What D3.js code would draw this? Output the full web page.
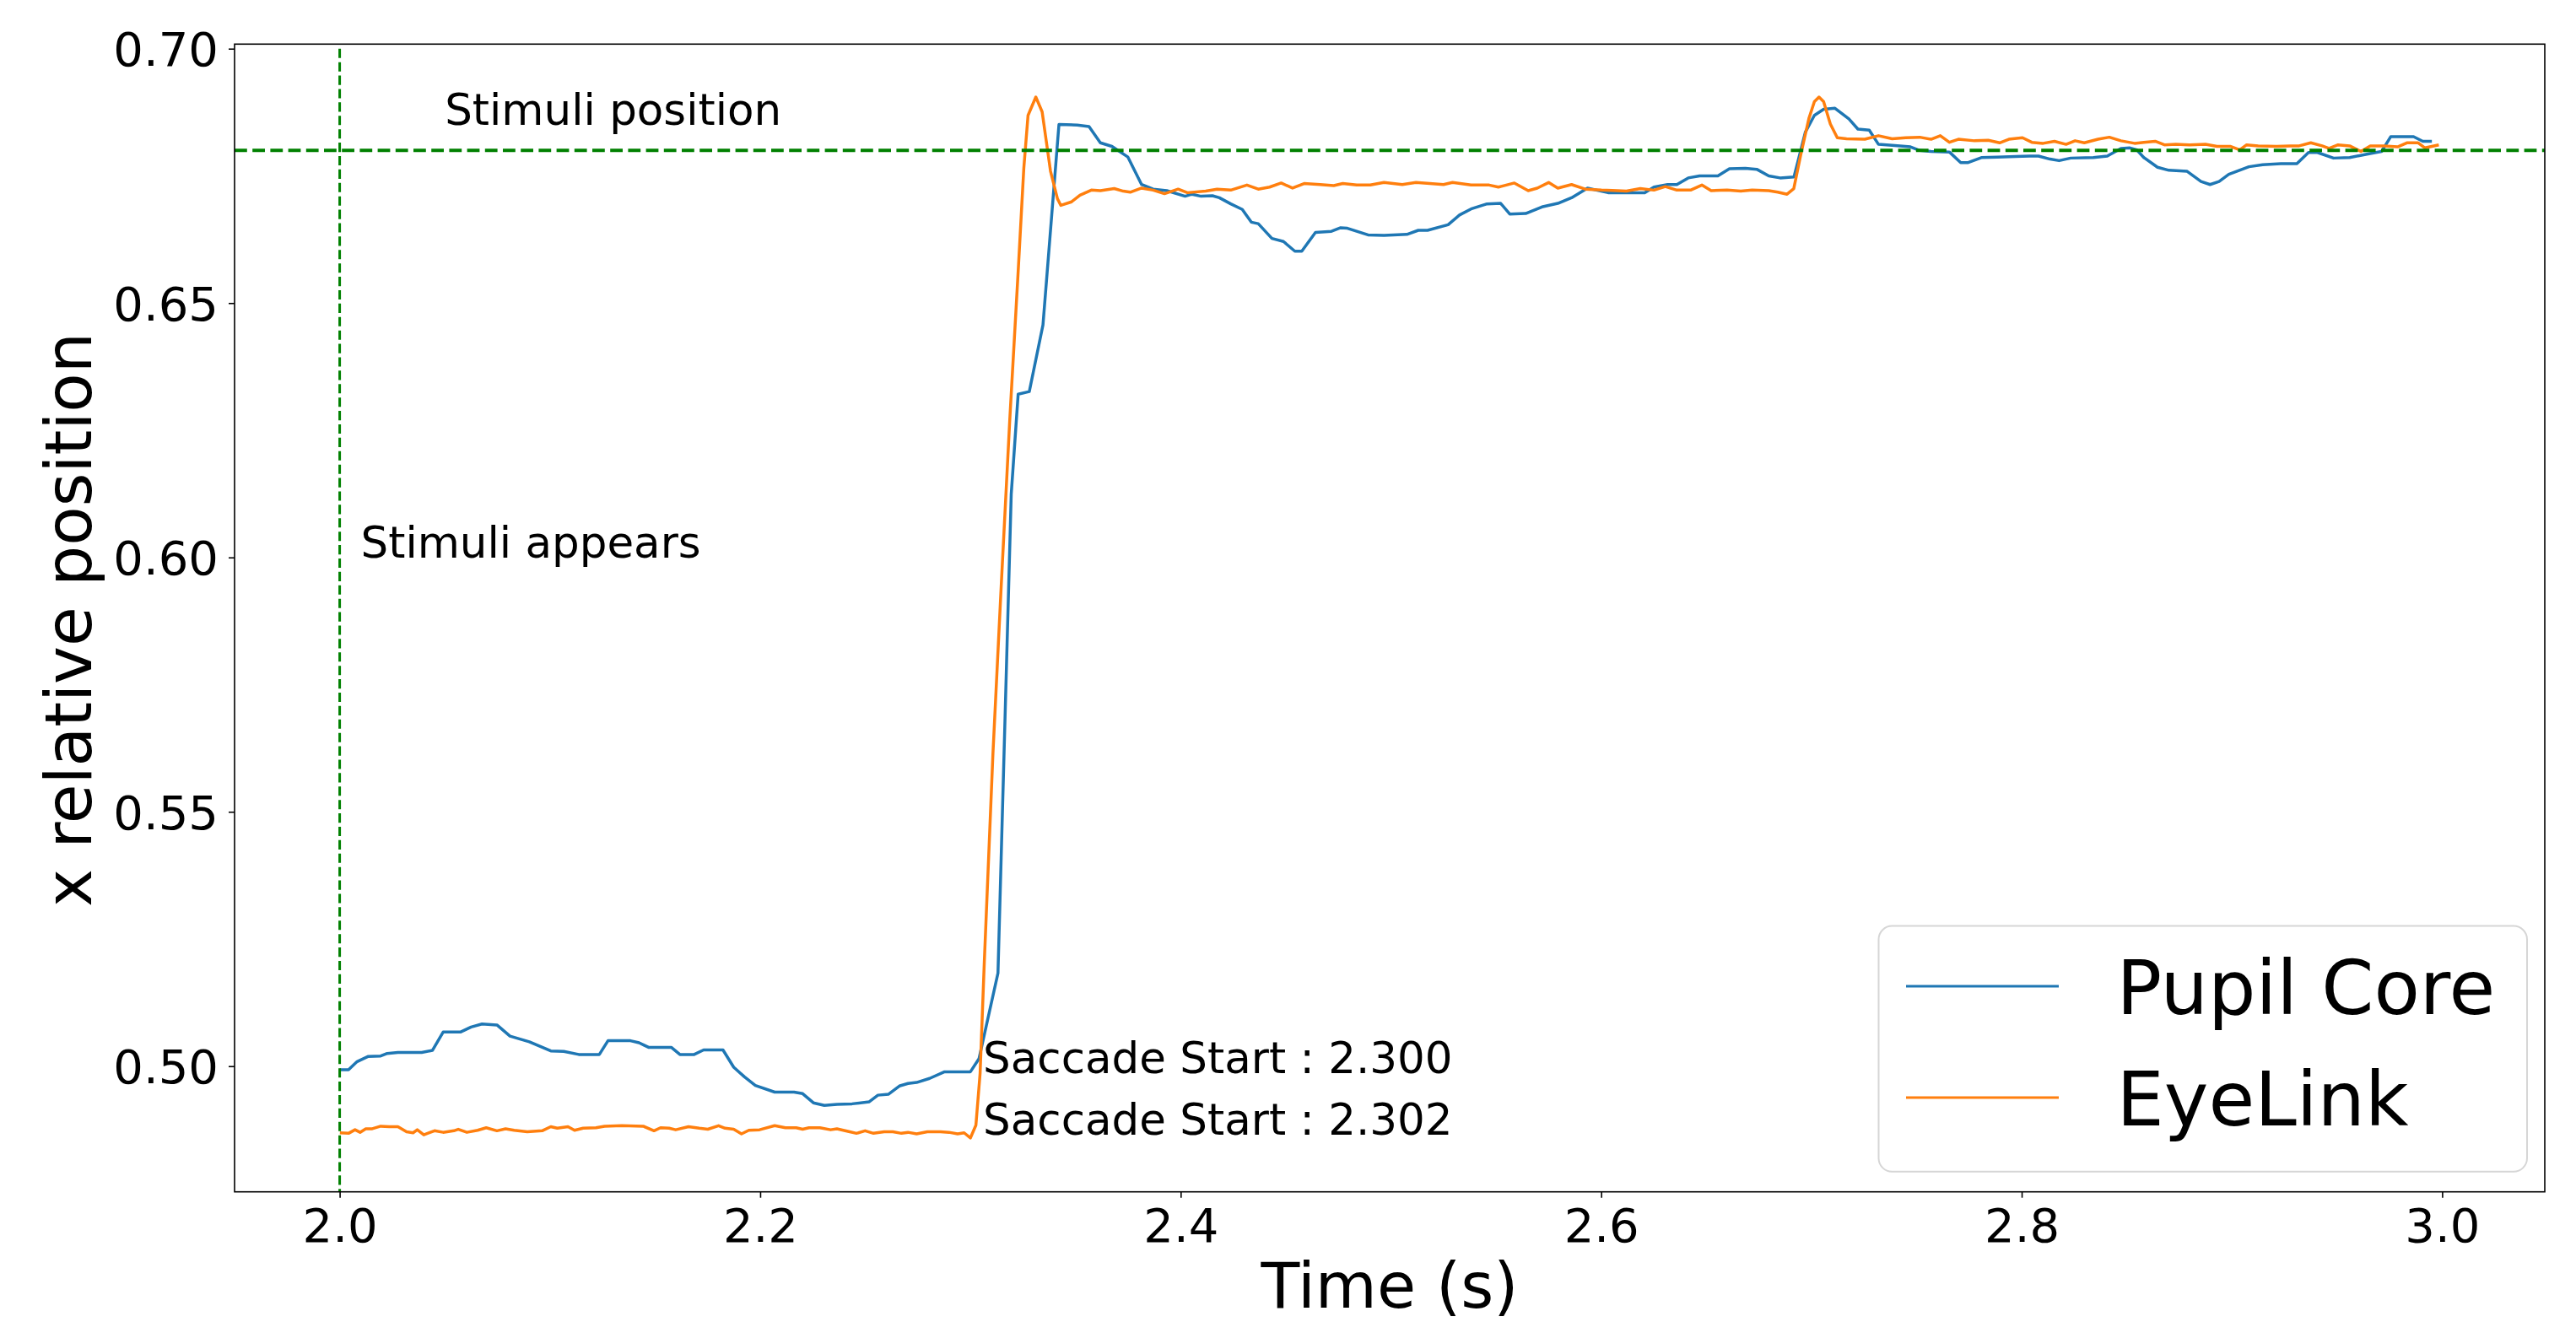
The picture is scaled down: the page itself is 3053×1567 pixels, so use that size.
<!DOCTYPE html>
<html>
<head>
<meta charset="utf-8">
<script src="https://cdn.jsdelivr.net/npm/d3@7"></script>
<style>
    body { margin: 0; background: #fff; }
    text { font-family: "DejaVu Sans", sans-serif; fill: #000; }
</style>
</head>
<body>
<div id="chart"></div>
<script>
const pupilTime = [2.0000, 2.0042, 2.0083, 2.0134, 2.0195, 2.0226, 2.0277, 2.0390, 2.0441, 2.0492, 2.0574, 2.0625, 2.0677, 2.0748, 2.0810, 2.0902, 2.1004, 2.1066, 2.1137, 2.1235, 2.1276, 2.1383, 2.1424, 2.1469, 2.1577, 2.1618, 2.1686, 2.1731, 2.1823, 2.1874, 2.1925, 2.1977, 2.2069, 2.2161, 2.2202, 2.2253, 2.2305, 2.2366, 2.2437, 2.2519, 2.2560, 2.2611, 2.2662, 2.2703, 2.2744, 2.2806, 2.2877, 2.3000, 2.3041, 2.3131, 2.3194, 2.3227, 2.3280, 2.3345, 2.3421, 2.3508, 2.3564, 2.3618, 2.3673, 2.3749, 2.3814, 2.3869, 2.3934, 2.4021, 2.4054, 2.4097, 2.4151, 2.4184, 2.4238, 2.4293, 2.4336, 2.4369, 2.4434, 2.4489, 2.4543, 2.4576, 2.4641, 2.4717, 2.4761, 2.4793, 2.4891, 2.4967, 2.5076, 2.5130, 2.5174, 2.5272, 2.5326, 2.5381, 2.5457, 2.5522, 2.5565, 2.5641, 2.5718, 2.5794, 2.5859, 2.5935, 2.6033, 2.6207, 2.6251, 2.6316, 2.6360, 2.6414, 2.6468, 2.6555, 2.6610, 2.6686, 2.6740, 2.6797, 2.6851, 2.6917, 2.6971, 2.7014, 2.7058, 2.7112, 2.7178, 2.7221, 2.7275, 2.7319, 2.7384, 2.7471, 2.7515, 2.7569, 2.7656, 2.7710, 2.7743, 2.7808, 2.7884, 2.7971, 2.8037, 2.8080, 2.8135, 2.8178, 2.8233, 2.8341, 2.8407, 2.8472, 2.8515, 2.8548, 2.8581, 2.8646, 2.8700, 2.8787, 2.8853, 2.8896, 2.8939, 2.8985, 2.9081, 2.9146, 2.9233, 2.9309, 2.9364, 2.9407, 2.9483, 2.9560, 2.9647, 2.9712, 2.9755, 2.9864, 2.9908, 2.9951];
const pupilX = [0.4993, 0.4993, 0.5009, 0.5019, 0.5020, 0.5025, 0.5027, 0.5027, 0.5031, 0.5067, 0.5067, 0.5077, 0.5083, 0.5081, 0.5059, 0.5048, 0.5030, 0.5029, 0.5023, 0.5023, 0.5050, 0.5050, 0.5046, 0.5037, 0.5037, 0.5023, 0.5023, 0.5032, 0.5032, 0.4998, 0.4979, 0.4962, 0.4949, 0.4949, 0.4946, 0.4928, 0.4923, 0.4925, 0.4926, 0.4930, 0.4943, 0.4945, 0.4961, 0.4966, 0.4968, 0.4976, 0.4989, 0.4989, 0.5015, 0.5183, 0.6124, 0.6321, 0.6326, 0.6457, 0.6851, 0.6850, 0.6847, 0.6815, 0.6808, 0.6787, 0.6733, 0.6724, 0.6721, 0.6710, 0.6714, 0.6710, 0.6711, 0.6707, 0.6695, 0.6684, 0.6659, 0.6656, 0.6627, 0.6621, 0.6602, 0.6602, 0.6639, 0.6641, 0.6648, 0.6647, 0.6634, 0.6633, 0.6635, 0.6643, 0.6643, 0.6654, 0.6673, 0.6685, 0.6695, 0.6696, 0.6675, 0.6676, 0.6689, 0.6696, 0.6707, 0.6726, 0.6717, 0.6717, 0.6728, 0.6733, 0.6733, 0.6746, 0.6750, 0.6750, 0.6764, 0.6765, 0.6763, 0.6750, 0.6746, 0.6748, 0.6836, 0.6869, 0.6881, 0.6883, 0.6862, 0.6842, 0.6840, 0.6812, 0.6810, 0.6807, 0.6800, 0.6798, 0.6797, 0.6776, 0.6776, 0.6786, 0.6787, 0.6788, 0.6789, 0.6789, 0.6783, 0.6780, 0.6785, 0.6786, 0.6789, 0.6804, 0.6805, 0.6801, 0.6786, 0.6767, 0.6761, 0.6759, 0.6739, 0.6733, 0.6739, 0.6753, 0.6768, 0.6772, 0.6774, 0.6774, 0.6796, 0.6796, 0.6785, 0.6786, 0.6793, 0.6798, 0.6827, 0.6827, 0.6818, 0.6818];

const eyelinkTime = [2.0001, 2.0042, 2.0073, 2.0097, 2.0124, 2.0155, 2.0195, 2.0236, 2.0277, 2.0318, 2.0349, 2.0369, 2.0400, 2.0451, 2.0492, 2.0543, 2.0564, 2.0605, 2.0656, 2.0697, 2.0748, 2.0789, 2.0830, 2.0892, 2.0963, 2.1004, 2.1035, 2.1086, 2.1117, 2.1158, 2.1219, 2.1260, 2.1342, 2.1444, 2.1495, 2.1526, 2.1567, 2.1598, 2.1659, 2.1710, 2.1751, 2.1802, 2.1833, 2.1874, 2.1911, 2.1946, 2.1997, 2.2069, 2.2120, 2.2171, 2.2202, 2.2232, 2.2284, 2.2335, 2.2365, 2.2417, 2.2458, 2.2499, 2.2539, 2.2590, 2.2631, 2.2672, 2.2703, 2.2744, 2.2795, 2.2857, 2.2898, 2.2939, 2.2970, 2.3000, 2.3026, 2.3046, 2.3066, 2.3107, 2.3147, 2.3187, 2.3227, 2.3254, 2.3274, 2.3311, 2.3341, 2.3381, 2.3414, 2.3430, 2.3481, 2.3521, 2.3575, 2.3618, 2.3684, 2.3727, 2.3760, 2.3814, 2.3869, 2.3923, 2.3988, 2.4032, 2.4119, 2.4173, 2.4238, 2.4315, 2.4369, 2.4423, 2.4478, 2.4532, 2.4587, 2.4663, 2.4728, 2.4771, 2.4837, 2.4902, 2.4967, 2.5054, 2.5119, 2.5185, 2.5250, 2.5293, 2.5381, 2.5467, 2.5511, 2.5587, 2.5653, 2.5696, 2.5750, 2.5794, 2.5859, 2.5924, 2.6001, 2.6077, 2.6120, 2.6186, 2.6251, 2.6305, 2.6360, 2.6425, 2.6479, 2.6523, 2.6599, 2.6664, 2.6718, 2.6797, 2.6840, 2.6884, 2.6916, 2.6949, 2.6988, 2.7014, 2.7036, 2.7058, 2.7090, 2.7123, 2.7167, 2.7254, 2.7319, 2.7384, 2.7449, 2.7515, 2.7569, 2.7613, 2.7656, 2.7699, 2.7776, 2.7841, 2.7895, 2.7939, 2.8004, 2.8048, 2.8102, 2.8156, 2.8211, 2.8254, 2.8298, 2.8363, 2.8417, 2.8472, 2.8537, 2.8581, 2.8635, 2.8679, 2.8733, 2.8798, 2.8874, 2.8929, 2.8994, 2.9037, 2.9070, 2.9125, 2.9212, 2.9277, 2.9320, 2.9375, 2.9429, 2.9462, 2.9505, 2.9560, 2.9614, 2.9658, 2.9723, 2.9788, 2.9832, 2.9886, 2.9918, 2.9984];
const eyelinkX = [0.4869, 0.4868, 0.4875, 0.4870, 0.4877, 0.4877, 0.4882, 0.4881, 0.4881, 0.4871, 0.4869, 0.4875, 0.4865, 0.4873, 0.4870, 0.4873, 0.4876, 0.4870, 0.4874, 0.4879, 0.4873, 0.4877, 0.4874, 0.4871, 0.4873, 0.4881, 0.4878, 0.4881, 0.4874, 0.4878, 0.4879, 0.4882, 0.4883, 0.4882, 0.4873, 0.4879, 0.4878, 0.4875, 0.4881, 0.4878, 0.4876, 0.4883, 0.4878, 0.4876, 0.4867, 0.4874, 0.4875, 0.4883, 0.4879, 0.4879, 0.4876, 0.4879, 0.4879, 0.4875, 0.4877, 0.4872, 0.4868, 0.4873, 0.4868, 0.4871, 0.4871, 0.4868, 0.4870, 0.4867, 0.4871, 0.4871, 0.4870, 0.4867, 0.4869, 0.4859, 0.4884, 0.4986, 0.5205, 0.5614, 0.5949, 0.6270, 0.6562, 0.6766, 0.6869, 0.6905, 0.6876, 0.6759, 0.6705, 0.6692, 0.6699, 0.6712, 0.6722, 0.6721, 0.6725, 0.6720, 0.6718, 0.6726, 0.6722, 0.6715, 0.6724, 0.6717, 0.6720, 0.6724, 0.6722, 0.6732, 0.6724, 0.6728, 0.6736, 0.6726, 0.6735, 0.6733, 0.6731, 0.6735, 0.6732, 0.6732, 0.6737, 0.6733, 0.6737, 0.6735, 0.6733, 0.6737, 0.6732, 0.6732, 0.6728, 0.6736, 0.6721, 0.6726, 0.6737, 0.6726, 0.6733, 0.6724, 0.6722, 0.6721, 0.6720, 0.6725, 0.6722, 0.6729, 0.6722, 0.6722, 0.6732, 0.6721, 0.6722, 0.6720, 0.6722, 0.6721, 0.6718, 0.6714, 0.6725, 0.6791, 0.6863, 0.6896, 0.6905, 0.6896, 0.6852, 0.6825, 0.6823, 0.6822, 0.6829, 0.6823, 0.6825, 0.6826, 0.6822, 0.6829, 0.6816, 0.6822, 0.6819, 0.6820, 0.6815, 0.6822, 0.6825, 0.6816, 0.6814, 0.6818, 0.6812, 0.6819, 0.6815, 0.6822, 0.6826, 0.6819, 0.6814, 0.6816, 0.6818, 0.6811, 0.6812, 0.6811, 0.6812, 0.6808, 0.6808, 0.6801, 0.6811, 0.6809, 0.6808, 0.6809, 0.6809, 0.6815, 0.6809, 0.6804, 0.6811, 0.6809, 0.6798, 0.6809, 0.6809, 0.6807, 0.6815, 0.6815, 0.6805, 0.6811];

const xTicks = [2.0, 2.2, 2.4, 2.6, 2.8, 3.0];
const yTicks = [0.50, 0.55, 0.60, 0.65, 0.70];

const seriesNames = ['Pupil Core', 'EyeLink'];
const seriesColors = ['#1f77b4', '#ff7f0e'];

const stimulusTime = 2.0;
const stimulusPosition = 0.68;
const notes = [
    { t: 2.05, v: 0.685, text: 'Stimuli position' },
    { t: 2.01, v: 0.600, text: 'Stimuli appears' },
    { t: 2.306, v: 0.4987, text: 'Saccade Start : 2.300' },
    { t: 2.306, v: 0.4866, text: 'Saccade Start : 2.302' }
];

const width = 3053, height = 1567;
const plot = { left: 278, right: 3016, top: 52.3, bottom: 1412.7 };

const x = d3.scaleLinear().domain([1.95, 3.0488]).range([plot.left, plot.right]);
const y = d3.scaleLinear().domain([0.4753, 0.7009]).range([plot.bottom, plot.top]);

const svg = d3.select('#chart')
    .append('svg')
    .attr('width', width)
    .attr('height', height);

svg.append('rect').attr('width', width).attr('height', height).attr('fill', '#fff');

svg.append('clipPath').attr('id', 'clip')
    .append('rect')
    .attr('x', plot.left).attr('y', plot.top)
    .attr('width', plot.right - plot.left).attr('height', plot.bottom - plot.top);

const g = svg.append('g').attr('clip-path', 'url(#clip)');

// series
const line = d3.line().x(d => x(d[0])).y(d => y(d[1]));
const series = [d3.zip(pupilTime, pupilX), d3.zip(eyelinkTime, eyelinkX)];

series.forEach((s, i) => {
    g.append('path')
        .datum(s)
        .attr('fill', 'none')
        .attr('stroke', seriesColors[i])
        .attr('stroke-width', 3.5)
        .attr('stroke-linejoin', 'round')
        .attr('d', line);
});

// stimulus markers
g.append('line')
    .attr('x1', plot.left).attr('x2', plot.right)
    .attr('y1', y(stimulusPosition)).attr('y2', y(stimulusPosition))
    .attr('stroke', '#008000')
    .attr('stroke-width', 4)
    .attr('stroke-dasharray', '14.8,6.4');

g.append('line')
    .attr('x1', x(stimulusTime)).attr('x2', x(stimulusTime))
    .attr('y1', y(0.70)).attr('y2', plot.bottom)
    .attr('stroke', '#008000')
    .attr('stroke-width', 3)
    .attr('stroke-dasharray', '11.1,4.8');

// annotations
svg.selectAll('.note')
    .data(notes)
    .join('text')
    .attr('class', 'note')
    .attr('x', d => x(d.t))
    .attr('y', d => y(d.v))
    .style('font-size', '51.5px')
    .text(d => d.text);

// axes
const xAxis = svg.append('g')
    .attr('transform', `translate(0,${plot.bottom})`)
    .call(d3.axisBottom(x).tickValues(xTicks).tickFormat(d3.format('.1f')).tickSize(7).tickPadding(13).tickSizeOuter(0));

const yAxis = svg.append('g')
    .attr('transform', `translate(${plot.left},0)`)
    .call(d3.axisLeft(y).tickValues(yTicks).tickFormat(d3.format('.2f')).tickSize(7).tickPadding(12).tickSizeOuter(0));

[xAxis, yAxis].forEach(a => {
    a.select('.domain').remove();
    a.selectAll('line').attr('stroke', '#000').attr('stroke-width', 1.6);
    a.selectAll('text')
        .attr('fill', '#000')
        .style('font-family', '"DejaVu Sans", sans-serif')
        .style('font-size', '56px');
});
yAxis.selectAll('text').attr('dy', '0.36em');

svg.append('rect')
    .attr('x', plot.left).attr('y', plot.top)
    .attr('width', plot.right - plot.left).attr('height', plot.bottom - plot.top)
    .attr('fill', 'none')
    .attr('stroke', '#000')
    .attr('stroke-width', 1.6);

svg.append('text')
    .attr('x', (plot.left + plot.right) / 2)
    .attr('y', 1550)
    .attr('text-anchor', 'middle')
    .style('font-size', '75px')
    .text('Time (s)');

svg.append('text')
    .attr('transform', `translate(108,${(plot.top + plot.bottom) / 2 + 2}) rotate(-90)`)
    .attr('text-anchor', 'middle')
    .style('font-size', '76px')
    .text('x relative position');

// legend
const legend = svg.append('g').attr('transform', 'translate(2226.5,1097.6)');

legend.append('rect')
    .attr('width', 768.5)
    .attr('height', 291.2)
    .attr('rx', 16)
    .attr('fill', '#fff')
    .attr('fill-opacity', 0.8)
    .attr('stroke', '#d6d6d6')
    .attr('stroke-width', 2);

seriesNames.forEach((name, i) => {
    const ly = 71.5 + i * 132;
    legend.append('line')
        .attr('x1', 32.5).attr('x2', 213.5)
        .attr('y1', ly).attr('y2', ly)
        .attr('stroke', seriesColors[i])
        .attr('stroke-width', 3);
    legend.append('text')
        .attr('x', 282)
        .attr('y', ly + 33)
        .style('font-size', '89px')
        .text(name);
});
</script>
</body>
</html>
